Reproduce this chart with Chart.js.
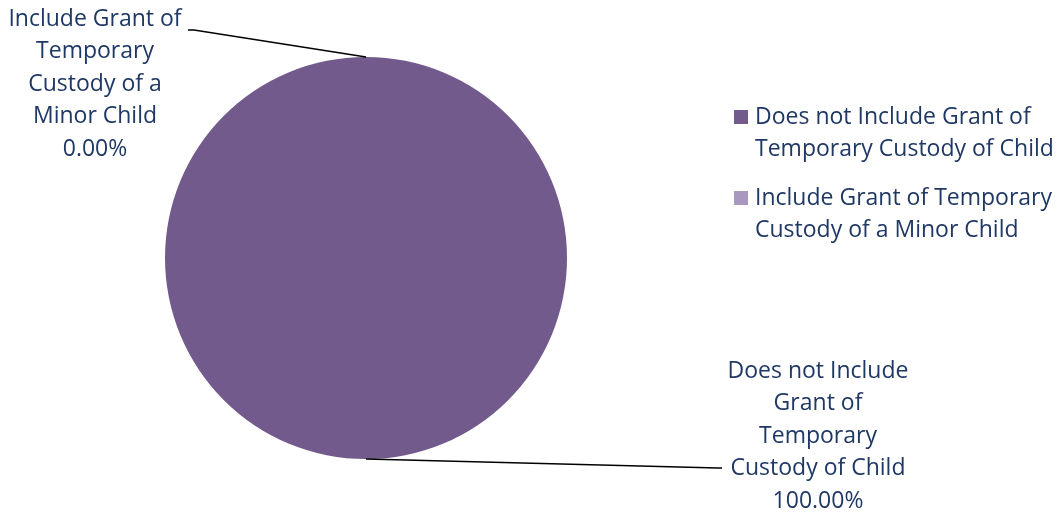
<!DOCTYPE html>
<html>
<head>
<meta charset="utf-8">
<script src="https://cdn.jsdelivr.net/npm/chart.js@4.4.1/dist/chart.umd.min.js"></script>
<style>
  html, body { margin: 0; padding: 0; background: #ffffff; }
  #wrap { width: 1060px; height: 514px; position: relative; }
</style>
</head>
<body>
<div id="wrap"><canvas id="pie"></canvas></div>
<script>
// =======================
// DATA
// =======================
const categories = [
    "Does not Include Grant of Temporary Custody of Child",
    "Include Grant of Temporary Custody of a Minor Child"
];
const shares = [100, 0];
const sliceColors = ["#725A8C", "#A898BF"];

// wrapped text as it appears in the picture
const legendLines = [
    ["Does not Include Grant of", "Temporary Custody of Child"],
    ["Include Grant of Temporary", "Custody of a Minor Child"]
];
const labelLines = [
    ["Does not Include", "Grant of", "Temporary", "Custody of Child"],
    ["Include Grant of", "Temporary", "Custody of a", "Minor Child"]
];

const textColor = "#1F3864";
const fontFamily = "'Open Sans', sans-serif";
const fontSize = 23;

// =======================
// LABELS + LEGEND PLUGIN
// =======================
const pieExtras = {
    id: "pieExtras",
    afterDraw(chart) {
        const ctx = chart.ctx;
        const meta = chart.getDatasetMeta(0);
        const ds = chart.data.datasets[0];
        const total = ds.data.reduce((a, b) => a + b, 0);

        ctx.save();
        ctx.font = fontSize + "px " + fontFamily;
        ctx.fillStyle = textColor;
        ctx.textBaseline = "middle";

        // label block centre, first line y, and elbow of the leader line
        const spots = [
            { cx: 818, y0: 371, ex: 718, ey: 468, side: 1 },
            { cx: 95, y0: 19, ex: 194, ey: 30, side: -1 }
        ];
        const lineH = 32.5;

        meta.data.forEach((arc, i) => {
            const p = arc.getProps(["x", "y", "startAngle", "endAngle", "outerRadius"], true);
            const mid = (p.startAngle + p.endAngle) / 2;
            const ax = p.x + Math.cos(mid) * p.outerRadius;
            const ay = p.y + Math.sin(mid) * p.outerRadius;
            const s = spots[i];

            ctx.beginPath();
            ctx.strokeStyle = "#000000";
            ctx.lineWidth = 1.5;
            ctx.moveTo(ax, ay);
            ctx.lineTo(s.ex, s.ey);
            ctx.lineTo(s.ex + (s.side > 0 ? 4 : -6), s.ey);
            ctx.stroke();

            const pct = (ds.data[i] / total * 100).toFixed(2) + "%";
            const lines = labelLines[i].concat([pct]);
            ctx.textAlign = "center";
            lines.forEach((t, k) => {
                ctx.fillText(t, s.cx, s.y0 + k * lineH);
            });
        });

        // legend
        const lx = 734, tx = 755;
        const rows = [117, 198];
        ctx.textAlign = "left";
        legendLines.forEach((lines, i) => {
            ctx.fillStyle = sliceColors[i];
            ctx.fillRect(lx, rows[i] - 7, 14, 14);
            ctx.fillStyle = textColor;
            lines.forEach((t, k) => {
                ctx.fillText(t, tx, rows[i] + k * 32.5);
            });
        });

        ctx.restore();
    }
};

// =======================
// CHART
// =======================
new Chart(document.getElementById("pie"), {
    type: "pie",
    data: {
        labels: categories,
        datasets: [{
            data: shares,
            backgroundColor: sliceColors,
            borderWidth: 0
        }]
    },
    options: {
        responsive: true,
        maintainAspectRatio: false,
        animation: false,
        layout: {
            padding: { left: 165, right: 493, top: 57, bottom: 55 }
        },
        plugins: {
            legend: { display: false },
            tooltip: { enabled: false }
        }
    },
    plugins: [pieExtras]
});
</script>
</body>
</html>
